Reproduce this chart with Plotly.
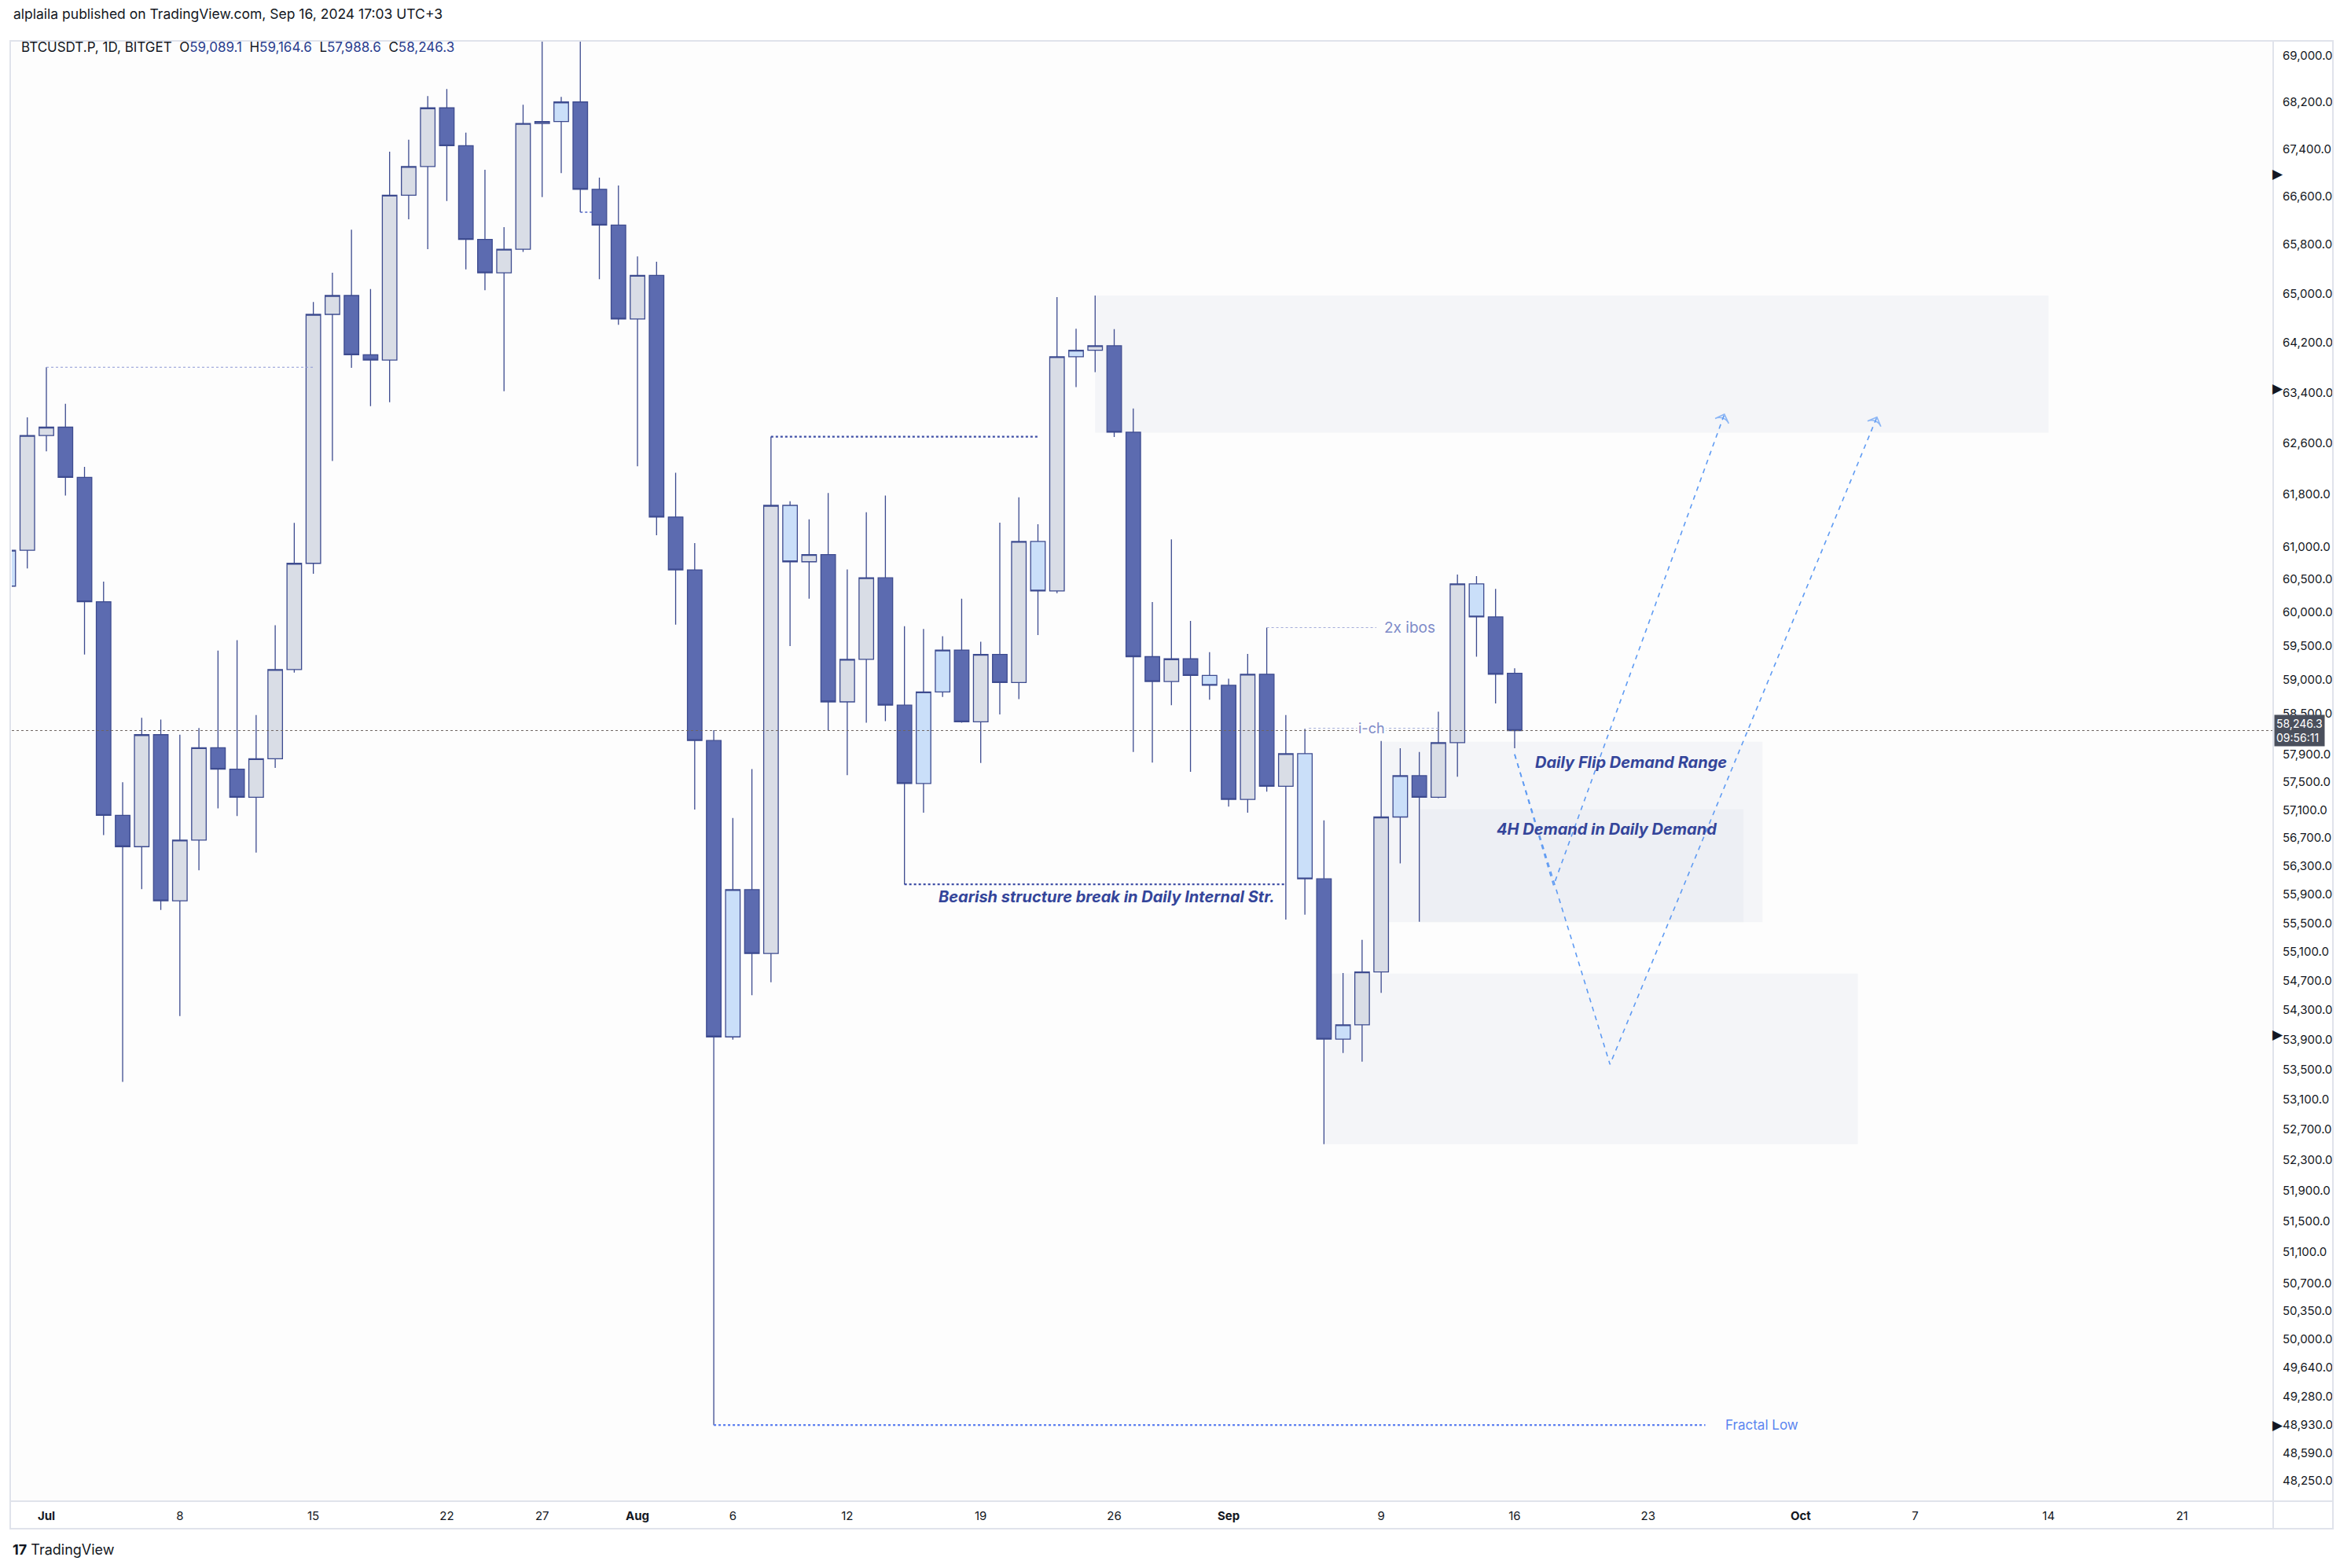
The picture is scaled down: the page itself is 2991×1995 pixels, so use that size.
import math
import pandas as pd
import plotly.graph_objects as go

# ---------------- data ----------------
dates = pd.date_range("2024-06-29", "2024-09-16", freq="D").strftime("%Y-%m-%d").tolist()

opens = [60396, 60941, 62722, 62854, 62068, 60159, 57019, 56573, 58186, 55810,
         56666, 57996, 57684, 57280, 57835, 59145, 60742, 64658, 64965, 64006,
         63922, 66622, 67103, 68097, 67454, 65885, 65337, 65724, 67830, 67864,
         68198, 66720, 66123, 64583, 65295, 61452, 60643, 58101, 53936, 55966,
         55077, 61632, 60766, 60875, 58667, 59296, 60522, 58619, 57478, 58813,
         59435, 58375, 59370, 58952, 61077, 60322, 63974, 64080, 64151, 62774,
         59336, 58968, 59304, 59058, 58911, 57249, 59075, 57438, 57909, 56118,
         53906, 54100, 54823, 56996, 57590, 57280, 58070, 60430, 59931, 59089.1]
highs = [61200, 63009, 63806, 63225, 62231, 60465, 57496, 58433, 58406, 58186,
         58282, 59426, 59581, 58473, 59807, 61362, 64859, 65337, 66046, 65071,
         67354, 67554, 68298, 68420, 67675, 67047, 66090, 68152, 69400, 68287,
         70079, 66916, 66785, 65606, 65519, 62139, 61051, 58253, 56982, 57685,
         62704, 61697, 61417, 61825, 60648, 61527, 61783, 59790, 59749, 59642,
         60205, 59558, 61366, 61757, 61340, 64938, 64427, 64965, 64419, 63148,
         60154, 61110, 59872, 59402, 59009, 59378, 59771, 58473, 58271, 56948,
         54807, 55265, 58094, 57989, 57933, 58521, 60573, 60548, 60355, 59164.6]
lows = [60250, 60663, 62475, 61785, 59368, 56739, 53331, 55974, 55682, 54218,
        56239, 57121, 57010, 56489, 57703, 59100, 60585, 62322, 63797, 63185,
        63247, 66219, 65724, 66523, 65391, 65050, 63422, 65681, 66589, 66993,
        66338, 65231, 64489, 62241, 61171, 59816, 57102, 48930, 53900, 54503,
        54680, 59493, 60205, 58239, 57598, 58360, 58383, 56041, 57059, 58740,
        58360, 57774, 58481, 58708, 59658, 60289, 63489, 63728, 62700, 57933,
        57781, 58619, 57646, 58700, 57146, 57059, 57359, 55548, 55617, 52503,
        53719, 53601, 54535, 56336, 55517, 57265, 57574, 59336, 58643, 57988.6]
closes = [60941, 62722, 62854, 62068, 60159, 57019, 56573, 58186, 55810, 56666,
          57996, 57684, 57280, 57835, 59145, 60742, 64658, 64965, 64006, 63922,
          66622, 67103, 68097, 67454, 65885, 65337, 65724, 67830, 67864, 68198,
          66720, 66123, 64583, 65295, 61452, 60643, 58101, 53936, 55966, 55077,
          61632, 60766, 60875, 58667, 59296, 60522, 58619, 57478, 58813, 59435,
          58375, 59370, 58952, 61077, 60322, 63974, 64080, 64151, 62774, 59336,
          58968, 59304, 59058, 58911, 57249, 59075, 57438, 57909, 56118, 53906,
          54100, 54823, 56996, 57590, 57280, 58070, 60430, 59931, 59075, 58246.3]
styles = ["blue", "gray", "gray", "dark", "dark", "dark", "dark", "gray", "dark", "gray",
          "gray", "dark", "dark", "gray", "gray", "gray", "gray", "gray", "dark", "dark",
          "gray", "gray", "gray", "dark", "dark", "dark", "gray", "gray", "gray", "blue",
          "dark", "dark", "dark", "gray", "dark", "dark", "dark", "dark", "blue", "dark",
          "gray", "blue", "gray", "dark", "gray", "gray", "dark", "dark", "blue", "blue",
          "dark", "gray", "dark", "gray", "blue", "gray", "blue", "gray", "dark", "dark",
          "dark", "gray", "dark", "blue", "dark", "gray", "dark", "gray", "blue", "dark",
          "blue", "gray", "gray", "blue", "dark", "gray", "gray", "blue", "dark", "dark"]

ytick_vals = [69000, 68200, 67400, 66600, 65800, 65000, 64200, 63400, 62600, 61800,
              61000, 60500, 60000, 59500, 59000, 58500, 57900, 57500, 57100, 56700,
              56300, 55900, 55500, 55100, 54700, 54300, 53900, 53500, 53100, 52700,
              52300, 51900, 51500, 51100, 50700, 50350, 50000, 49640, 49280, 48930,
              48590, 48250]
xtick_dates = ["2024-07-01", "2024-07-08", "2024-07-15", "2024-07-22", "2024-07-27",
               "2024-08-01", "2024-08-06", "2024-08-12", "2024-08-19", "2024-08-26",
               "2024-09-01", "2024-09-09", "2024-09-16", "2024-09-23", "2024-10-01",
               "2024-10-07", "2024-10-14", "2024-10-21"]
xtick_text = ["<b>Jul</b>", "8", "15", "22", "27", "<b>Aug</b>", "6", "12", "19", "26",
              "<b>Sep</b>", "9", "16", "23", "<b>Oct</b>", "7", "14", "21"]

# zones (boxes)
zone_start = ["2024-08-25", "2024-09-09", "2024-09-11", "2024-09-06"]
zone_end = ["2024-10-14", "2024-09-29", "2024-09-28", "2024-10-04"]
zone_top = [64966, 58082, 57105, 54800]
zone_bottom = [62767, 55512, 55512, 52503]

# projected paths
path_a_x = ["2024-09-16", "2024-09-21", "2024-10-05"]
path_a_y = [57900, 53565, 63012]
path_b_x = ["2024-09-16", "2024-09-18 01:00", "2024-09-27"]
path_b_y = [57900, 56026, 63058]

# structure lines
bos_x = ["2024-08-15", "2024-09-04"]; bos_y = 56041
aug_high_x = ["2024-08-08", "2024-08-22"]; aug_high_y = 62704
jul_high_x = ["2024-07-01", "2024-07-15"]; jul_high_y = 63806
jul29_x = ["2024-07-29", "2024-07-29 17:00"]; jul29_y = 66338
ibos_x = ["2024-09-03", "2024-09-08 18:00"]; ibos_y = 59771
ich_x = ["2024-09-05 05:00", "2024-09-12 03:30"]; ich_y = 58279
fractal_x = ["2024-08-05", "2024-09-26"]; fractal_y = 48930
axis_marks = [66982, 63472, 53975, 48930]

last_price = closes[-1]
x_range = ["2024-06-29 04:28", "2024-10-25 18:43"]
y_range = [48004, 69252]

# ---------------- figure ----------------
OFF = 8                      # default page body margin
W, H = 2975, 1975
PL, PR, PT, PB = 15 - OFF, 2892 - OFF, 52 - OFF, 1910 - OFF
FONT = "Inter, Roboto, sans-serif"
def px_x(p):   # page pixel -> paper
    return (p - OFF - PL) / (PR - PL)
def px_y(p):
    return (PB - (p - OFF)) / (PB - PT)

fig = go.Figure()

# zones as bars (drawn below the candles)
z0 = pd.to_datetime(zone_start); z1 = pd.to_datetime(zone_end)
fig.add_trace(go.Bar(
    x=[a + (b - a) / 2 for a, b in zip(z0, z1)],
    width=[(b - a).total_seconds() * 1000 for a, b in zip(z0, z1)],
    base=zone_bottom, y=[t - b for t, b in zip(zone_top, zone_bottom)],
    marker=dict(color="rgba(214,218,232,0.22)", line=dict(width=0)),
    hoverinfo="skip"))

# candles
style_colors = {"dark": "#5c6bb0", "gray": "#d9dde6", "blue": "#cadff9"}
edge = "#3d4b8f"
for st, fillc in style_colors.items():
    idx = [i for i, s in enumerate(styles) if s == st]
    side = dict(fillcolor=fillc, line=dict(color=edge, width=1.3))
    fig.add_trace(go.Candlestick(
        x=[dates[i] for i in idx], open=[opens[i] for i in idx],
        high=[highs[i] for i in idx], low=[lows[i] for i in idx],
        close=[closes[i] for i in idx], increasing=side, decreasing=side,
        whiskerwidth=0, hoverinfo="skip"))

# current price line
fig.add_trace(go.Scatter(x=x_range, y=[last_price, last_price], mode="lines",
                         line=dict(color="#6e6460", width=1, dash="dot"), hoverinfo="skip"))

def hline(xs, y, color, width, dash):
    fig.add_trace(go.Scatter(x=xs, y=[y, y], mode="lines",
                             line=dict(color=color, width=width, dash=dash), hoverinfo="skip"))

hline(jul_high_x, jul_high_y, "#8d98d4", 1, "dot")
hline(jul29_x, jul29_y, "#4f66c6", 1.5, "dot")
hline(aug_high_x, aug_high_y, "#3f4fa6", 2.2, "dot")
hline(bos_x, bos_y, "#3f4fa6", 2.2, "dot")
hline(ibos_x, ibos_y, "#a3acd9", 1, "dot")
hline(ich_x, ich_y, "#a3acd9", 1, "dot")
hline(fractal_x, fractal_y, "#5b7ff0", 2.2, "dot")

# projected dashed paths with arrow heads
for xs, ys in [(path_a_x, path_a_y), (path_b_x, path_b_y)]:
    fig.add_trace(go.Scatter(
        x=xs, y=ys, mode="lines+markers",
        line=dict(color="#5f9bf3", width=1.6, dash="6px,6px"),
        marker=dict(symbol="arrow-wide-open", size=[0, 0, 13], angleref="previous",
                    color="#5f9bf3", line=dict(color="#5f9bf3", width=1.6)),
        hoverinfo="skip"))

# ---------------- annotations ----------------
ann = []
label_bold = dict(family=FONT, size=20, color="#34459a", weight="bold", style="italic")
ann.append(dict(x="2024-09-22 02:00", y=math.log10(57777), text="Daily Flip Demand Range",
                xanchor="center", yanchor="middle", showarrow=False, font=label_bold))
ann.append(dict(x="2024-09-20 19:40", y=math.log10(56825), text="4H Demand in Daily Demand",
                xanchor="center", yanchor="middle", showarrow=False, font=label_bold))
ann.append(dict(x="2024-09-03 12:15", y=math.log10(55868),
                text="Bearish structure break in Daily Internal Str.",
                xanchor="right", yanchor="middle", showarrow=False,
                font=dict(family=FONT, size=20, color="#34459a", weight="bold", style="italic")))
ann.append(dict(x="2024-09-09 01:40", y=math.log10(ibos_y), text="2x ibos",
                xanchor="left", yanchor="middle", showarrow=False,
                font=dict(family=FONT, size=19, color="#7e8bc8")))
ann.append(dict(x="2024-09-08 12:00", y=math.log10(ich_y), text="i-ch",
                xanchor="center", yanchor="middle", showarrow=False, bgcolor="#fdfdfd",
                font=dict(family=FONT, size=18, color="#7e8bc8")))
ann.append(dict(x="2024-09-26 23:00", y=math.log10(fractal_y), text="Fractal Low",
                xanchor="left", yanchor="middle", showarrow=False,
                font=dict(family=FONT, size=17, color="#5b85f0")))

# right axis markers and last-price label
for lv in axis_marks:
    ann.append(dict(xref="paper", x=1, y=math.log10(lv), text="▶", xanchor="left",
                    yanchor="middle", xshift=-3, showarrow=False,
                    font=dict(family="DejaVu Sans", size=17, color="#131722")))
ann.append(dict(xref="paper", x=1, y=math.log10(last_price),
                text=f"{last_price:,.1f}<br>09:56:11", xanchor="left", yanchor="middle",
                xshift=1, showarrow=False, bgcolor="#4a4f5c", borderpad=2, align="left",
                font=dict(family=FONT, size=14, color="#ffffff")))

# header texts
ann.append(dict(xref="paper", yref="paper", x=px_x(15), y=px_y(18),
                text="alplaila published on TradingView.com, Sep 16, 2024 17:03 UTC+3",
                xanchor="left", yanchor="middle", showarrow=False,
                font=dict(family=FONT, size=17.5, color="#131722")))
vc = "#2a3d8f"
hdr = (f"BTCUSDT.P, 1D, BITGET  O<span style='color:{vc}'>{opens[-1]:,.1f}</span>"
       f"  H<span style='color:{vc}'>{highs[-1]:,.1f}</span>"
       f"  L<span style='color:{vc}'>{lows[-1]:,.1f}</span>"
       f"  C<span style='color:{vc}'>{closes[-1]:,.1f}</span>")
ann.append(dict(xref="paper", yref="paper", x=px_x(25), y=px_y(60), text=hdr,
                xanchor="left", yanchor="middle", showarrow=False,
                font=dict(family=FONT, size=17, color="#131722")))
ann.append(dict(xref="paper", yref="paper", x=px_x(14), y=px_y(1971),
                text="<b>17</b> TradingView", xanchor="left", yanchor="middle",
                showarrow=False, font=dict(family=FONT, size=18, color="#131722")))

# frame lines
fc = "#e0e3eb"
shapes = [
    dict(type="rect", xref="paper", yref="paper", x0=px_x(13), x1=px_x(2968),
         y0=px_y(1945), y1=px_y(52), line=dict(color=fc, width=2)),
    dict(type="line", xref="paper", yref="paper", x0=1, x1=1, y0=px_y(1945), y1=1,
         line=dict(color=fc, width=2)),
    dict(type="line", xref="paper", yref="paper", x0=px_x(13), x1=px_x(2968), y0=0, y1=0,
         line=dict(color=fc, width=2)),
]

fig.update_layout(
    width=W, height=H,
    margin=dict(l=PL, r=W - PR, t=PT, b=H - PB, autoexpand=False),
    paper_bgcolor="#ffffff", plot_bgcolor="#fdfdfd",
    showlegend=False, boxgap=0.237, boxgroupgap=0, barmode="overlay",
    annotations=ann, shapes=shapes,
    font=dict(family=FONT, color="#131722"),
    xaxis=dict(type="date", range=x_range, rangeslider=dict(visible=False),
               tickmode="array", tickvals=xtick_dates, ticktext=xtick_text,
               showgrid=False, zeroline=False, showline=False, ticks="",
               tickfont=dict(family=FONT, size=15, color="#131722"), ticklabelstandoff=8),
    yaxis=dict(type="log", range=[math.log10(y_range[0]), math.log10(y_range[1])],
               side="right", tickmode="array", tickvals=ytick_vals,
               ticktext=[f"{v:,.1f}" for v in ytick_vals],
               showgrid=False, zeroline=False, showline=False, ticks="",
               tickfont=dict(family=FONT, size=15, color="#131722"), ticklabelstandoff=11),
)

fig.write_html("out.html")
